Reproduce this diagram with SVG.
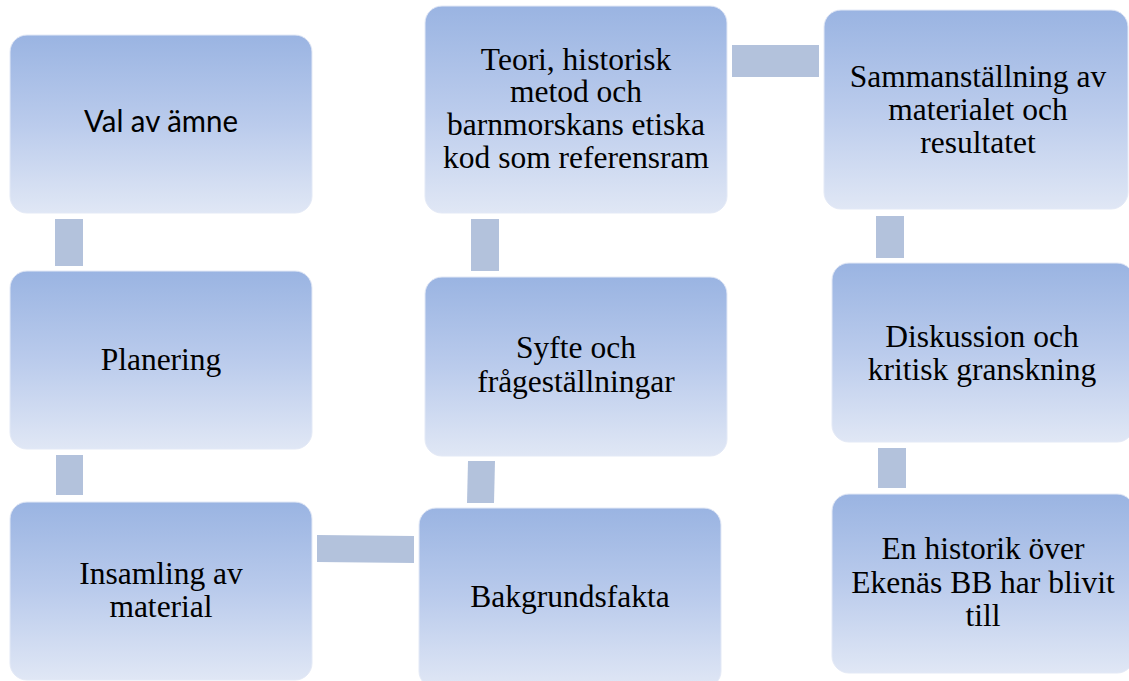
<svg xmlns="http://www.w3.org/2000/svg" width="1129" height="681" viewBox="0 0 1129 681">
<defs>
<linearGradient id="g" x1="0" y1="0" x2="0" y2="1">
<stop offset="0" stop-color="#9AB4E2"/>
<stop offset="0.5" stop-color="#BACBEC"/>
<stop offset="1" stop-color="#E0E7F5"/>
</linearGradient>
</defs>
<style>
.box{fill:url(#g);stroke:#E3E9F6;stroke-width:1}
.t{font-family:"Liberation Serif","Times New Roman",serif;font-size:31.5px;fill:#000;text-anchor:middle}
.s{font-family:Lato,"Liberation Sans",sans-serif;font-size:30px;fill:#000;text-anchor:middle}
.c{fill:#B3C2DC}
</style>
<g id="connectors">
<rect class="c" x="55" y="219" width="28" height="47"/>
<rect class="c" x="56" y="455" width="27" height="40"/>
<polygon class="c" points="317,535 414,536 414,563 317,562"/>
<polygon class="c" points="468,461 495,461 494,503 467,503"/>
<rect class="c" x="471" y="219" width="28" height="52"/>
<rect class="c" x="732" y="45" width="87" height="32"/>
<rect class="c" x="876" y="216" width="28" height="42"/>
<rect class="c" x="878" y="448" width="28" height="40"/>
</g>
<g id="n1"><rect class="box" x="10" y="35" width="302" height="178" rx="17"/><text class="s" x="161" y="132" textLength="154" lengthAdjust="spacingAndGlyphs">Val av ämne</text></g>
<g id="n2"><rect class="box" x="10" y="271" width="302" height="178" rx="17"/><text class="t" x="161" y="370">Planering</text></g>
<g id="n3"><rect class="box" x="10" y="502" width="302" height="178" rx="17"/><text class="t" x="161" y="584">Insamling av</text><text class="t" x="161" y="617">material</text></g>
<g id="n4"><rect class="box" x="419" y="508" width="302" height="180" rx="17"/><text class="t" x="570" y="607">Bakgrundsfakta</text></g>
<g id="n5"><rect class="box" x="425" y="277" width="302" height="179" rx="17"/><text class="t" x="576" y="358">Syfte och</text><text class="t" x="576" y="392">frågeställningar</text></g>
<g id="n6"><rect class="box" x="425" y="6" width="302" height="207" rx="17"/><text class="t" x="576" y="70">Teori, historisk</text><text class="t" x="576" y="102">metod och</text><text class="t" x="576" y="135">barnmorskans etiska</text><text class="t" x="576" y="168">kod som referensram</text></g>
<g id="n7"><rect class="box" x="824" y="10" width="304" height="199" rx="17"/><text class="t" x="978" y="87">Sammanställning av</text><text class="t" x="978" y="120">materialet och</text><text class="t" x="978" y="153">resultatet</text></g>
<g id="n8"><rect class="box" x="832" y="263" width="302" height="179" rx="17"/><text class="t" x="982" y="347">Diskussion och</text><text class="t" x="982" y="380">kritisk granskning</text></g>
<g id="n9"><rect class="box" x="832" y="494" width="302" height="179" rx="17"/><text class="t" x="983" y="559">En historik över</text><text class="t" x="983" y="593">Ekenäs BB har blivit</text><text class="t" x="983" y="626">till</text></g>
</svg>
